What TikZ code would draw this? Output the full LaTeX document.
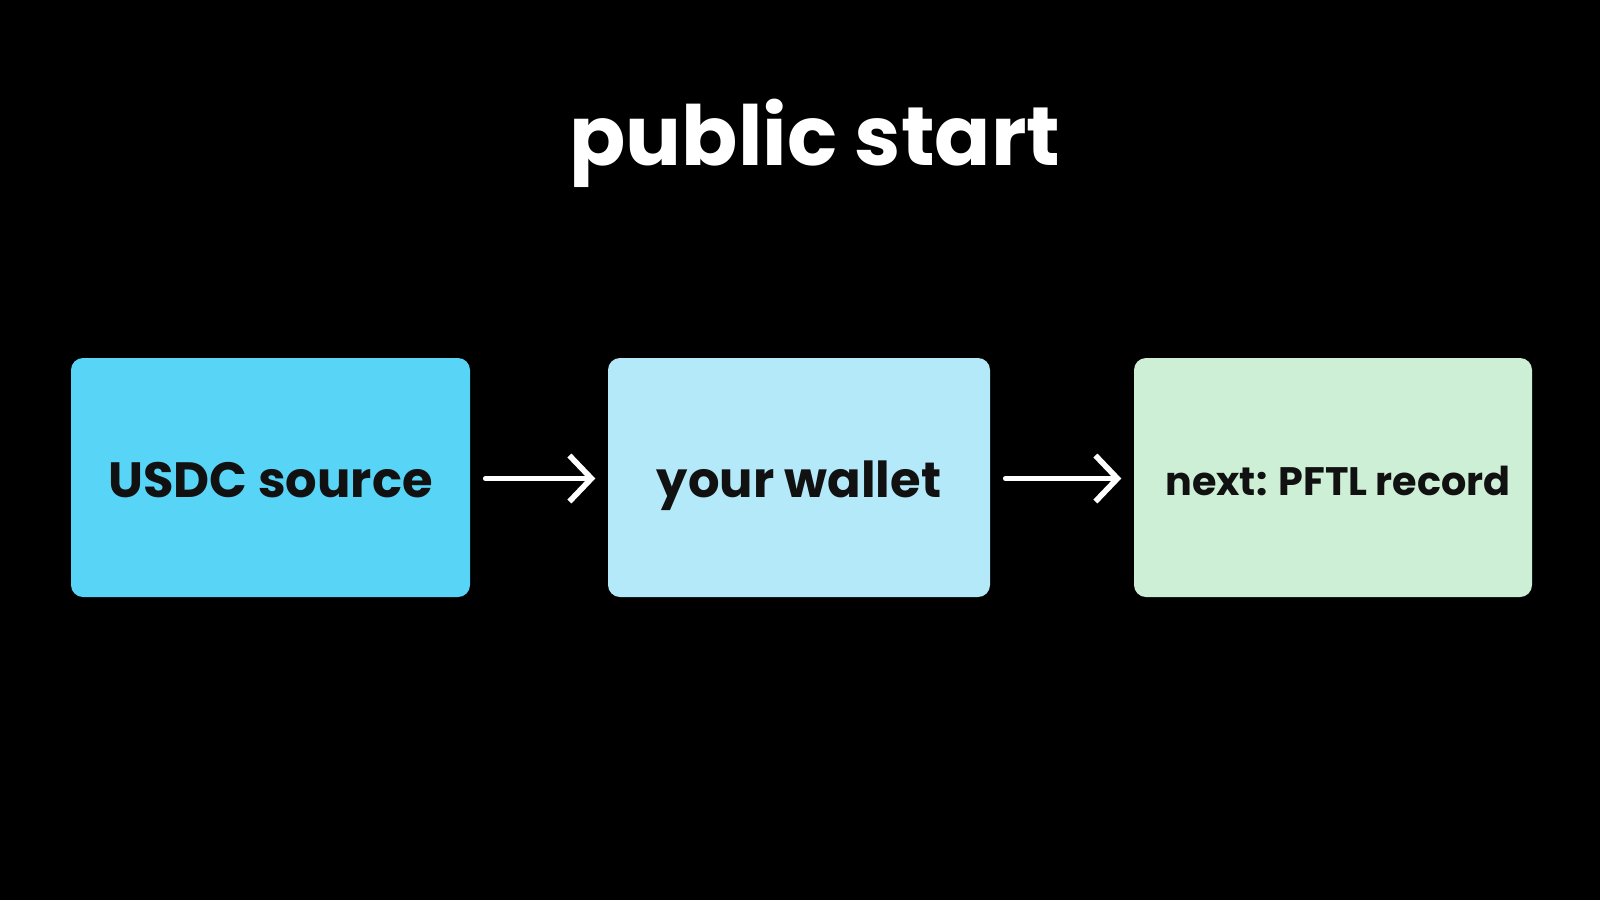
\documentclass[tikz,border=0pt]{standalone}
\usepackage{fontspec}
\setmainfont{Poppins}
\usetikzlibrary{arrows.meta, positioning}
\definecolor{boxcyan}{HTML}{58D4F7}
\definecolor{boxpale}{HTML}{B3E9F9}
\definecolor{boxmint}{HTML}{CDEFD5}
\definecolor{inkdark}{HTML}{111111}
\tikzset{
  card/.style={rounded corners=1.2mm, inner sep=0pt, text=inkdark, text height=14pt, text depth=2.4pt, font=\bfseries\fontsize{14.1}{17}\selectfont},
  flow/.style={-{Straight Barb[length=2.2mm, width=4.6mm, line width=1.6pt]}, line width=1.6pt, white, line cap=round, line join=round, shorten <=1.5mm, shorten >=1.2mm},
  ttl/.style={text=white, font=\bfseries\fontsize{23.6}{28}\selectfont}
}

\begin{document}
\begin{tikzpicture}
		% canvas
		\fill[black] (0,0) rectangle (16,-9);
		\useasboundingbox (0,0) rectangle (16,-9);
		\node[ttl] (title) at (8.15,-1.43) {public start};
		% boxes
		\node[card, fill=boxcyan, minimum width=3.99cm, minimum height=2.39cm] (src) at (2.705,-4.775) {USDC source};
		\node[card, fill=boxpale, minimum width=3.82cm, minimum height=2.39cm] (wal) at (7.99,-4.775) {your wallet};
		\node[card, fill=boxmint, minimum width=3.98cm, minimum height=2.39cm, text height=12pt, text depth=1.6pt, font=\bfseries\fontsize{11.3}{14}\selectfont] (rec) at (13.33,-4.775) {\hspace*{1mm}next: PFTL record};
		% arrows
		\draw[flow] ([yshift=-0.01cm]src.east) -- ([yshift=-0.01cm]wal.west);
		\draw[flow] ([yshift=-0.01cm]wal.east) -- ([yshift=-0.01cm]rec.west);
	\end{tikzpicture}
\end{document}
